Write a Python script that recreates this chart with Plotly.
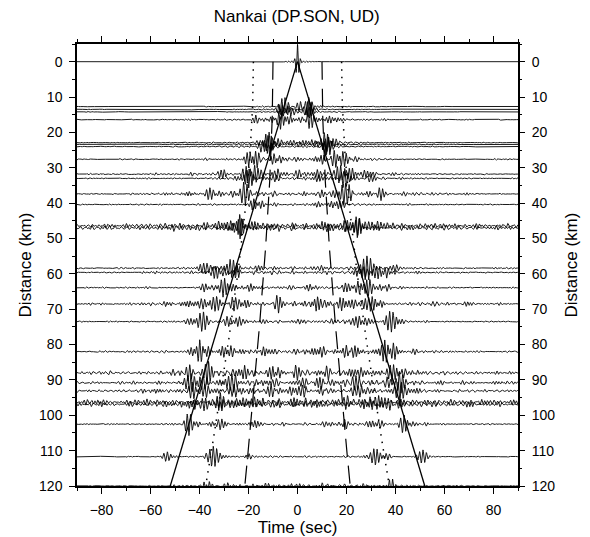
import numpy as np
import plotly.graph_objects as go

# ---- data (record section of cross-correlations) ----
trace_dist = [0.0, 12.7, 13.5, 14.2, 16.4, 22.9, 23.4, 24.0, 27.6, 31.8, 33.0, 37.4, 40.4,
              46.4, 47.0, 58.4, 59.6, 63.9, 68.5, 73.5, 82.0, 88.0, 90.8, 93.1, 96.3, 96.9,
              102.5, 111.7, 120.0]
trace_noise = [0.0, 0.18, 0.18, 0.18, 0.28, 0.28, 0.28, 0.28, 0.38, 0.45, 0.38, 0.45, 0.28,
               0.65, 0.6, 0.4, 0.4, 0.35, 0.65, 0.35, 0.45, 0.65, 0.65, 0.65, 0.75, 0.75,
               0.4, 0.28, 0.4]
trace_noise_span = [10, 25, 25, 25, 40, 35, 35, 35, 40, 50, 45, 60, 60,
                    120, 120, 60, 60, 60, 70, 60, 70, 80, 70, 70, 100, 100,
                    60, 50, 45]
# wave packets per trace: (centre time s, amplitude km, half-width s)
trace_packets = [
    [(0, 4.6, 0.8), (0, 0.3, 6)],
    [(-5, 2.6, 3), (4, 2.6, 3), (0, 1.4, 4)],
    [(-6, 2.2, 2.5), (5, 2.4, 2.5)],
    [(-4, 1.9, 3), (6, 1.9, 3)],
    [(-17.5, 1.3, 1.5), (-12, 1.1, 2.5), (-6, 2.6, 3.5), (5, 2.6, 3.5), (12, 1.2, 2.5), (17, 1.1, 2)],
    [(-12, 2.9, 3.5), (-4, 0.8, 3), (4, 0.8, 3), (12, 2.9, 3.5)],
    [(-11, 2.6, 3), (0, 0.7, 4), (11, 2.6, 3)],
    [(-13, 2.2, 3), (13, 2.4, 3)],
    [(-18, 2.9, 3.5), (-9, 1.8, 2.5), (0, 0.6, 5), (10, 1.4, 2.5), (17, 2.9, 4), (25, 0.8, 3)],
    [(-32, 1.1, 4), (-19, 3.0, 4), (-8, 1.2, 3), (0, 1.1, 4), (8, 1.2, 3), (19, 3.0, 4), (28, 1.2, 4)],
    [(-20, 2.4, 3.5), (-10, 1.1, 3), (10, 1.1, 3), (20, 2.4, 3.5), (30, 0.8, 4)],
    [(-35, 1.8, 4), (-22, 3.0, 4), (-10, 0.8, 3), (0, 0.6, 4), (10, 0.8, 3), (19, 3.0, 4.5), (32, 1.8, 4), (45, 0.7, 4)],
    [(-17, 1.8, 3), (-8, 0.6, 3), (8, 0.6, 3), (16, 1.7, 3)],
    [(-30, 1.4, 4), (-22, 2.9, 4), (-10, 0.8, 4), (10, 0.8, 4), (22, 2.9, 4), (30, 1.4, 4)],
    [(-24, 2.4, 3.5), (-15, 1.1, 3), (15, 1.1, 3), (24, 2.4, 3.5)],
    [(-38, 1.4, 4), (-28, 3.0, 4), (-12, 0.8, 4), (10, 0.8, 4), (28, 3.2, 4), (38, 1.4, 4)],
    [(-33, 2.0, 4), (-25, 1.7, 3), (26, 1.7, 3), (34, 2.0, 4)],
    [(-37, 1.4, 3), (-30, 2.6, 4), (-20, 1.0, 3), (-5, 0.7, 3), (5, 1.2, 2.5), (20, 1.1, 3), (28, 2.6, 4.5), (35, 1.4, 3)],
    [(-36, 2.4, 4), (-24, 1.9, 4), (-8, 1.9, 4), (8, 1.8, 4), (20, 2.2, 4), (31, 2.0, 4)],
    [(-40, 2.9, 4), (-26, 2.0, 4), (-12, 0.6, 3), (0, 0.6, 4), (13, 0.6, 3), (26, 2.0, 4), (39, 2.9, 4)],
    [(-40, 3.0, 4), (-28, 1.8, 4), (-12, 1.4, 4), (0, 0.8, 4), (10, 1.4, 4), (22, 1.8, 4), (37, 3.0, 4), (48, 0.8, 4)],
    [(-44, 1.7, 3), (-37, 2.9, 4), (-23, 1.9, 3.5), (-10, 1.4, 4), (0, 1.9, 3.5), (12, 1.4, 4), (24, 2.0, 3.5), (40, 2.9, 4)],
    [(-42, 3.0, 4.5), (-26, 2.4, 4.5), (-10, 1.4, 4), (0, 1.7, 3.5), (10, 1.4, 4), (24, 2.0, 4.5), (41, 2.9, 4)],
    [(-40, 2.6, 4.5), (-25, 1.7, 4.5), (-12, 1.2, 4), (0, 1.7, 4), (12, 1.2, 4), (25, 1.7, 4.5), (42, 2.6, 4)],
    [(-32, 2.0, 3.5), (-20, 1.4, 3.5), (0, 1.0, 4), (20, 1.4, 3.5), (32, 2.0, 3.5)],
    [(-38, 1.7, 4), (-28, 1.7, 3.5), (28, 1.7, 3.5), (38, 1.7, 4)],
    [(-44, 3.2, 2.5), (-32, 1.7, 3.5), (-18, 1.1, 2.5), (-5, 0.7, 3), (12, 0.8, 2.5), (19, 1.1, 2.5), (32, 1.4, 3.5), (44, 3.0, 2.5)],
    [(-52, 1.7, 3), (-34, 2.6, 4), (-20, 0.8, 1.5), (20, 0.8, 1.5), (33, 2.6, 4), (51, 1.7, 3)],
    [(-37, 2.0, 2), (-28, 0.8, 3), (-12, 0.8, 3), (0, 0.8, 3), (12, 0.8, 3), (28, 0.8, 3), (38, 2.0, 2)],
]
# reference move-out curves
solid_velocity = 2.31            # km/s, t = d / v
dashed_t0, dashed_v = 10.0, 6.3  # t = sqrt(t0^2 + (d/v)^2)
dotted_t0, dotted_v = 18.0, 3.65
x_ticks = [-80, -60, -40, -20, 0, 20, 40, 60, 80]
y_ticks = [0, 10, 20, 30, 40, 50, 60, 70, 80, 90, 100, 110, 120]

# ---- build figure ----
t = np.arange(-90, 90.02, 0.08)
dcurve = np.linspace(0, 120, 241)
fig = go.Figure()

def add_curve(tt, dd, dash, width):
    fig.add_trace(go.Scatter(x=tt, y=dd, mode="lines", hoverinfo="skip", showlegend=False,
                             line=dict(color="black", width=width, dash=dash)))

t_dash = np.sqrt(dashed_t0**2 + (dcurve / dashed_v)**2)
t_dot = np.sqrt(dotted_t0**2 + (dcurve / dotted_v)**2)
for sgn in (-1, 1):
    add_curve(sgn * t_dot, dcurve, "1.5px,6px", 1.5)
    add_curve(sgn * t_dash, dcurve, "18px,9px", 1.2)

for i, (d, nz, span, pk) in enumerate(zip(trace_dist, trace_noise, trace_noise_span, trace_packets)):
    p1 = 1.2 + 0.04 * (i % 4)
    p2 = 1.55 + 0.05 * (i % 3)
    w = np.zeros_like(t)
    for j, (tc, a, hw) in enumerate(pk):
        env = a * np.exp(-((t - tc) / hw) ** 2)
        if i == 0:
            w += env * np.cos(2 * np.pi * (t - tc) / p1)
        else:
            ph = (i * 3 + j) * 2.399963
            w += env * (0.65 * np.cos(2 * np.pi * (t - tc) / p1 + ph)
                        + 0.45 * np.cos(2 * np.pi * (t - tc) / p2 + 1.7 * ph))
    if nz > 0:
        # deterministic background texture (sum of incommensurate sinusoids)
        bg = np.zeros_like(t)
        ncomp = 30
        for k in range(ncomp):
            s = np.sqrt(7.0 * k + 3.0 * i + 2.0)
            f = 0.4 + 0.6 * (s - np.floor(s))
            bg += np.sin(2 * np.pi * f * t + (i * 31 + k) * 2.399963)
        bg /= np.sqrt(ncomp / 2.0)
        env = 0.3 + 0.7 * np.exp(-(t / span) ** 2)
        w += nz * env * bg * 0.6
    fig.add_trace(go.Scatter(x=t, y=d - w, mode="lines", hoverinfo="skip", showlegend=False,
                             line=dict(color="black", width=0.9)))

t_solid = dcurve / solid_velocity
for sgn in (-1, 1):
    add_curve(sgn * t_solid, dcurve, "solid", 1.3)

# invisible trace to anchor right axis
fig.add_trace(go.Scatter(x=[0], y=[0], yaxis="y2", mode="markers", marker=dict(opacity=0),
                         hoverinfo="skip", showlegend=False))

font = "Liberation Sans, Arial, Helvetica, sans-serif"
common_y = dict(range=[120, -5], tickvals=y_ticks, ticks="outside", ticklen=6, tickwidth=1,
                tickcolor="black", showgrid=False, zeroline=False, automargin=False,
                minor=dict(dtick=5, tick0=0, ticks="outside", ticklen=3, tickcolor="black"),
                tickfont=dict(size=14, color="black", family=font), ticklabelstandoff=4)
title_font = dict(size=17, color="black", family=font)
fig.update_layout(
    width=590, height=537,
    margin=dict(l=77, r=72, t=44, b=51, autoexpand=False),
    paper_bgcolor="white", plot_bgcolor="white",
    title=dict(text="Nankai (DP.SON, UD)", x=0.503, xanchor="center", y=1 - 16 / 537,
               yanchor="middle", font=dict(size=17, color="black", family=font)),
    xaxis=dict(range=[-90, 90], tickvals=x_ticks, ticks="outside", ticklen=6, tickwidth=1,
               tickcolor="black", showline=True, linewidth=1.5, linecolor="black", mirror="ticks",
               showgrid=False, zeroline=False, automargin=False,
               minor=dict(dtick=10, tick0=0, ticks="outside", ticklen=3, tickcolor="black"),
               tickfont=dict(size=14, color="black", family=font), ticklabelstandoff=4,
               title=dict(text="Time (sec)", font=title_font, standoff=3)),
    yaxis=dict(showline=True, linewidth=1.5, linecolor="black", mirror=True,
               title=dict(text="Distance (km)", font=title_font, standoff=3), **common_y),
    yaxis2=dict(overlaying="y", side="right", showline=False,
                title=dict(text="Distance (km)", font=title_font, standoff=10), **common_y),
)
fig.write_html("out.html", config={"displayModeBar": False},
               post_script="document.body.style.margin='0px';document.body.style.padding='0px';")
